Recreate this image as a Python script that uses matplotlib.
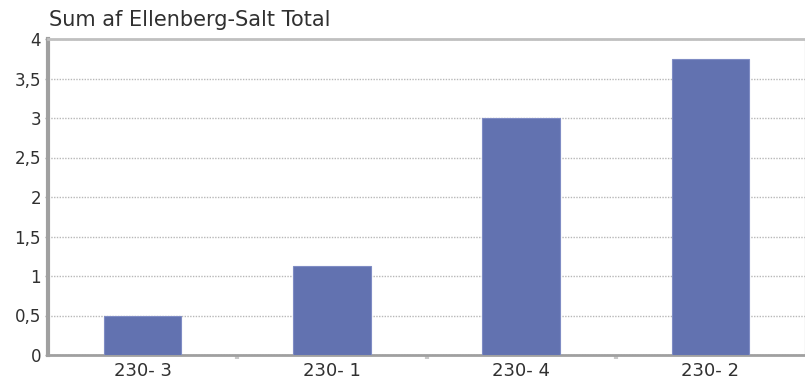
import matplotlib
matplotlib.use("Agg")
import matplotlib.pyplot as plt
from matplotlib.ticker import FixedLocator, FuncFormatter

categories = ["230- 3", "230- 1", "230- 4", "230- 2"]
values = [0.5, 1.13, 3.0, 3.75]
y_ticks = [0, 0.5, 1, 1.5, 2, 2.5, 3, 3.5, 4]
title = "Sum af Ellenberg-Salt Total"

bar_color = "#6272b0"
grid_color = "#b8b8b8"
text_color = "#303030"

fig = plt.figure(figsize=(8.05, 3.81), dpi=100)
ax = fig.add_axes([48 / 805, 26 / 381, 757 / 805, 316 / 381])

x = list(range(len(categories)))
ax.bar(x, values, width=0.41, color=bar_color, edgecolor="#7f8cc4",
       linewidth=0.8, zorder=3)

ax.set_xlim(-0.5, len(categories) - 0.5)
ax.set_ylim(0, 4)

# y axis: comma decimals, dotted grid lines
ax.yaxis.set_major_locator(FixedLocator(y_ticks))
ax.yaxis.set_major_formatter(FuncFormatter(
    lambda v, _: ("%g" % v).replace(".", ",")))
ax.grid(axis="y", linestyle=(0, (1, 1)), color=grid_color, linewidth=1.0,
        zorder=0)
ax.tick_params(axis="y", length=2, width=1, color="#a0a0a0", pad=3,
               labelsize=12, labelcolor=text_color)

# x axis: category labels, small marks at slot boundaries
ax.set_xticks(x)
ax.set_xticklabels(categories)
ax.set_xticks([i + 0.5 for i in range(len(categories) - 1)], minor=True)
ax.tick_params(axis="x", which="major", length=0, pad=5, labelsize=13,
               labelcolor=text_color)
ax.tick_params(axis="x", which="minor", length=3, width=3, color="#c8c8c8")

for side, (c, w) in {"left": ("#a0a0a0", 3), "bottom": ("#a0a0a0", 2),
                     "top": ("#c0c0c0", 2), "right": ("#e0e0e0", 1)}.items():
    ax.spines[side].set_color(c)
    ax.spines[side].set_linewidth(w)

fig.text(49 / 805, 1 - 20 / 381, title, fontsize=15, color=text_color,
         va="center", ha="left")

fig.savefig("out.png", dpi=100, facecolor="white")
